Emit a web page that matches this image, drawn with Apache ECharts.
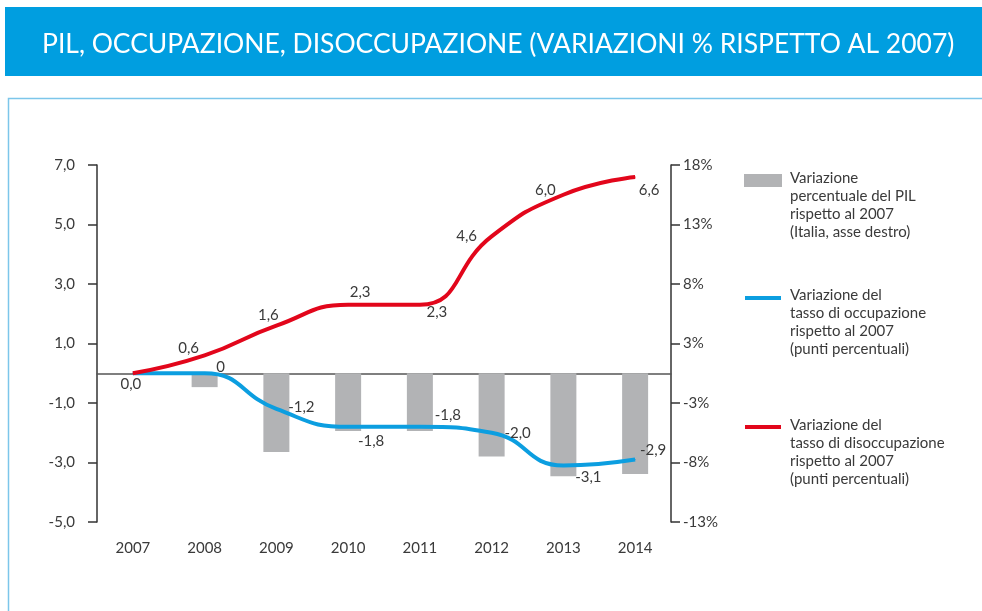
<!DOCTYPE html>
<html>
<head>
<meta charset="utf-8">
<script src="https://cdn.jsdelivr.net/npm/echarts@6/dist/echarts.min.js"></script>
<style>
  html, body { margin: 0; padding: 0; background: #fff; }
  #chart { width: 982px; height: 611px; }
</style>
</head>
<body>
<div id="chart"></div>
<script>
// data
const years = ['2007', '2008', '2009', '2010', '2011', '2012', '2013', '2014'];
const gdp = [0, -1.2, -6.8, -5.0, -5.0, -7.2, -8.9, -8.7];            // % vs 2007, right axis
const occupazione = [0, 0, -1.2, -1.8, -1.8, -2.0, -3.1, -2.9];          // punti percentuali
const disoccupazione = [0, 0.6, 1.6, 2.3, 2.3, 4.6, 6.0, 6.6];          // punti percentuali
const occLabels = ['', '0', '-1,2', '-1,8', '-1,8', '-2,0', '-3,1', '-2,9'];
const disLabels = ['0,0', '0,6', '1,6', '2,3', '2,3', '4,6', '6,0', '6,6'];
const leftTicks = { min: -5, max: 7, interval: 2 };
const rightMax = 18; // right axis top label, 18% at 7,0

const FONT = 'Lato';
const RED = '#e2061b';
const BLUE = '#0c9ee0';
const TXT = '#3a3a3a';

// where each value label sits relative to its point
const disOffsets = [[-2, 11], [-16, -7], [-8, -10], [12, -13], [17, 7], [-25, 0], [-18, -5], [14, 13]];
const occOffsets = [[0, 0], [16, -6], [25, -2], [23, 14], [28, -12], [26, 0], [25, 12], [18, -9]];

const scale = 7 / rightMax;

function lineData(vals, texts, offs) {
  return vals.map((v, i) => ({
    value: v,
    label: {
      show: texts[i] !== '',
      position: 'inside',
      offset: offs[i],
      formatter: texts[i]
    }
  }));
}

const chart = echarts.init(document.getElementById('chart'));

const legendText = (x, y, lines) => lines.map((t, i) => ({
  type: 'text', left: x, top: y + i * 18,
  style: { text: t, fill: TXT, font: '15px ' + FONT }
}));

chart.setOption({
  animation: false,
  grid: { left: 97, right: 311, top: 165, bottom: 89, outerBoundsMode: 'none', containLabel: false },
  xAxis: [
    {
      type: 'category',
      data: years,
      axisLine: { onZero: true, lineStyle: { color: '#555', width: 1.5 } },
      axisTick: { length: 6, lineStyle: { color: '#444', width: 1.5 } },
      axisLabel: { show: false }
    },
    {
      // labels along the bottom of the plot
      type: 'category',
      data: years,
      position: 'bottom',
      axisLine: { show: false, onZero: false },
      axisTick: { show: false },
      axisLabel: { margin: 19, color: TXT, fontSize: 15, fontFamily: FONT }
    }
  ],
  yAxis: [
    {
      type: 'value', min: leftTicks.min, max: leftTicks.max, interval: leftTicks.interval,
      splitLine: { show: false },
      axisLine: { show: true, lineStyle: { color: '#333', width: 1.5 } },
      axisTick: { show: true, length: 9, lineStyle: { color: '#333', width: 1.5 } },
      axisLabel: {
        margin: 22, color: TXT, fontSize: 15, fontFamily: FONT,
        formatter: v => v.toFixed(1).replace('.', ',')
      }
    },
    {
      type: 'value', min: leftTicks.min, max: leftTicks.max, interval: leftTicks.interval,
      position: 'right',
      splitLine: { show: false },
      axisLine: { show: true, lineStyle: { color: '#333', width: 1.5 } },
      axisTick: { show: true, length: 9, lineStyle: { color: '#333', width: 1.5 } },
      axisLabel: {
        margin: 12, color: TXT, fontSize: 15, fontFamily: FONT,
        formatter: v => Math.round(v / scale) + '%'
      }
    }
  ],
  series: [
    {
      name: 'PIL',
      type: 'bar',
      yAxisIndex: 1,
      barWidth: 26,
      itemStyle: { color: '#b2b3b5' },
      data: gdp.map(v => v * scale)
    },
    {
      name: 'occupazione',
      type: 'line',
      smooth: 0.5,
      symbol: 'circle',
      symbolSize: 1,
      itemStyle: { color: BLUE },
      lineStyle: { color: BLUE, width: 4 },
      label: { color: TXT, fontSize: 15, fontFamily: FONT },
      data: lineData(occupazione, occLabels, occOffsets),
      z: 3
    },
    {
      name: 'disoccupazione',
      type: 'line',
      smooth: 0.5,
      symbol: 'circle',
      symbolSize: 1,
      itemStyle: { color: RED },
      lineStyle: { color: RED, width: 4 },
      label: { color: TXT, fontSize: 15, fontFamily: FONT },
      data: lineData(disoccupazione, disLabels, disOffsets),
      z: 4
    }
  ],
  graphic: [
    { type: 'rect', shape: { x: 5, y: 7, width: 990, height: 69 }, style: { fill: '#009ee0' }, z: -1 },
    {
      type: 'text', x: 42, y: 44, scaleX: 0.98,
      style: {
        text: 'PIL, OCCUPAZIONE, DISOCCUPAZIONE (VARIAZIONI % RISPETTO AL 2007)',
        fill: '#fff', font: '27px ' + FONT, textVerticalAlign: 'middle'
      }
    },
    {
      type: 'polyline',
      shape: { points: [[8.5, 611], [8.5, 98.5], [982, 98.5]] },
      style: { stroke: '#7cc6ea', lineWidth: 1.5, fill: null }
    },
    { type: 'rect', shape: { x: 744, y: 174, width: 38, height: 13 }, style: { fill: '#b2b3b5' } },
    { type: 'line', shape: { x1: 745, y1: 298, x2: 781, y2: 298 }, style: { stroke: BLUE, lineWidth: 4 } },
    { type: 'line', shape: { x1: 745, y1: 427, x2: 781, y2: 427 }, style: { stroke: RED, lineWidth: 4 } },
    ...legendText(790, 171, ['Variazione', 'percentuale del PIL', 'rispetto al 2007', '(Italia, asse destro)']),
    ...legendText(790, 288, ['Variazione del', 'tasso di occupazione', 'rispetto al 2007', '(punti percentuali)']),
    ...legendText(790, 418, ['Variazione del', 'tasso di disoccupazione', 'rispetto al 2007', '(punti percentuali)'])
  ]
});
</script>
</body>
</html>
